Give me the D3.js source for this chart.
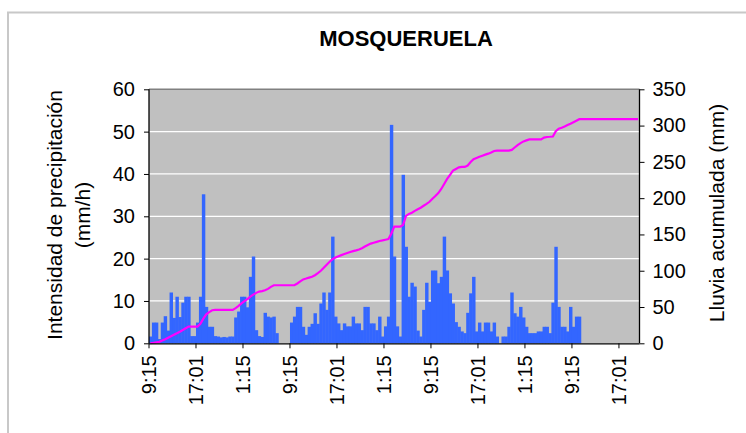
<!DOCTYPE html>
<html><head><meta charset="utf-8">
<script src="https://cdn.jsdelivr.net/npm/d3@7/dist/d3.min.js"></script>
<style>body{margin:0;background:#fff}svg{display:block;font-family:"Liberation Sans",Arial,sans-serif}</style>
</head><body><svg id="c" width="746" height="433"></svg>
<script>
const title = "MOSQUERUELA";
const leftTitle = ["Intensidad de precipitación", "(mm/h)"];
const rightTitle = "Lluvia acumulada (mm)";
const xTickLabels = ["9:15","17:01","1:15","9:15","17:01","1:15","9:15","17:01","1:15","9:15","17:01"];
const labelEvery = 16;
const nCategories = 167;
const leftTicks = [0,10,20,30,40,50,60];
const rightTicks = [0,50,100,150,200,250,300,350];
// intensity (mm/h) per interval; null = no data
const intensity = [
1.6,4.9,4.9,1,4.9,6.4,3,12,6,11,
6.2,9.6,11,11,1.7,1.7,4.9,11,35.2,8.6,
3.9,3.9,1.7,1.6,1.4,1.5,1.4,1.6,1.6,6.1,
7.5,11,11,8.5,15.7,20.5,3.1,1.7,1.5,7.2,
6.3,6.1,6.3,2.4,null,null,null,null,4.9,6.3,
8.6,8.6,3.9,2,3.9,4.6,7.1,4.6,9.4,12,
7.9,12,25.2,6.3,4.7,3.1,4.7,4,4,6.3,
4.7,4.7,3.1,8.6,8.6,4.7,4.7,3.1,6.3,1.6,
4,6.3,51.6,20.5,4,1.6,39.8,22.8,11,14.3,
13.4,3,1.6,7.9,14.3,9.8,17.2,17.2,14.2,15.7,
25.2,17.2,11.8,9.4,5,3.9,2.8,2.4,7.2,11.8,
15.7,2.8,4.9,2.8,4.9,4.9,2.8,4.9,1.6,null,
1.6,1.6,3.9,12,7.1,6.3,8.6,6.1,3.9,2.4,
2.4,2.4,2.8,2.8,3.9,3.9,2.4,9.6,22.8,8.6,
3.9,3.9,2.8,8.6,3.9,6.3,6.3
];
// accumulated rainfall (mm) per interval
const accumulated = [
0.3,0.8,1.4,2,3.7,5.6,7.7,9.7,11.8,13.8,
16,18.4,20.8,23,23,23,23,27,34,40,
43,45.5,46,46,46,46,46,46,46,48.5,
51.5,55,58,61,64.3,67,69.5,71.3,72,73,
75,77.8,80,80,80,80,80,80,80,80,
82.4,85.2,88,89.2,90.5,91.6,93.8,96.7,100,104,
108.3,112.3,116,118.2,120,121.5,123,124.5,125.8,127,
128,129.2,131,133.3,135.5,137.4,138.6,139.7,141,141.8,
142.7,143.6,151,160.7,160.7,160.7,163,175.5,178.3,180,
182.5,184.6,186.8,189.5,192.1,195,199.3,203,207,212.6,
219.6,226.5,232.2,238,240.2,242.4,243,243,245,249.7,
253.8,255.4,257,258.5,260,261.3,263,265,265.5,265.5,
265.5,265.5,265.5,266.5,269.8,273.2,275.9,278.2,279.6,280.9,
281,281,281,281,283.5,284.3,284.6,285,292.3,295.8,
297,298.7,300.7,302.6,304.7,306.8,308.8,309,309,309,
309,309,309,309,309,309,309,309,309,309,
309,309,309,309,309,309,309
];

const svg = d3.select("#c");
const X0 = 149, X1 = 639.5, Y0 = 343.3, Y1 = 89.3;
const cats = d3.range(nCategories);
const x = d3.scaleBand().domain(cats).range([X0, X1]).padding(0);
const bw = x.bandwidth();
const yL = d3.scaleLinear().domain([0,60]).range([Y0, Y1]);
const yR = d3.scaleLinear().domain([0,350]).range([Y0, Y1]);

// outer chart border
svg.append("path").attr("d","M8,434 V12.5 H747").attr("fill","none").attr("stroke","#c8c8c8").attr("stroke-width",2);

// plot background
svg.append("rect").attr("x",X0).attr("y",Y1).attr("width",X1-X0).attr("height",Y0-Y1).attr("fill","#c0c0c0");
// gridlines
svg.append("g").selectAll("line").data(leftTicks.filter(t=>t>0 && t<60)).join("line")
  .attr("x1",X0).attr("x2",X1).attr("y1",d=>yL(d)).attr("y2",d=>yL(d))
  .attr("stroke","#ffffff").attr("stroke-width",1.3);
svg.append("line").attr("x1",X0).attr("x2",X1).attr("y1",Y1).attr("y2",Y1).attr("stroke","#808080").attr("stroke-width",1.5);

// bars
svg.append("g").selectAll("rect").data(intensity.map((v,i)=>({v,i})).filter(d=>d.v!=null)).join("rect")
  .attr("x",d=>x(d.i)).attr("width",bw+0.5)
  .attr("y",d=>yL(d.v)).attr("height",d=>Y0-yL(d.v))
  .attr("fill","#3366ff");

// accumulated line
svg.append("path").datum(accumulated)
  .attr("d", d3.line().x((d,i)=>x(i)+bw/2).y(d=>yR(d)))
  .attr("fill","none").attr("stroke","#ff00ff").attr("stroke-width",2.2);

// axes
const fs = 20;
const gL = svg.append("g").attr("transform",`translate(${X0},0)`)
  .call(d3.axisLeft(yL).tickValues(leftTicks).tickSize(5).tickPadding(9).tickFormat(d3.format("d")));
const gR = svg.append("g").attr("transform",`translate(${X1},0)`)
  .call(d3.axisRight(yR).tickValues(rightTicks).tickSize(5).tickPadding(8).tickFormat(d3.format("d")));
const tickIdx = xTickLabels.map((t,k)=>k*labelEvery);
const gB = svg.append("g").attr("transform",`translate(0,${Y0})`)
  .call(d3.axisBottom(x).tickValues(tickIdx).tickSize(5).tickFormat((d)=>xTickLabels[d/labelEvery]));
gB.selectAll(".tick").attr("transform",d=>`translate(${x(d)},0)`);
gB.selectAll(".tick text").attr("transform","rotate(-90)").attr("x",-12).attr("y",0).attr("dy","0.35em").attr("text-anchor","end");
gB.select(".domain").attr("d",`M${X0},0.5H${X1}`);
[gL,gR,gB].forEach(g=>{
  g.selectAll("text").attr("font-size",fs).attr("fill","#000").attr("font-family","Liberation Sans, Arial, sans-serif");
  g.selectAll("line").attr("stroke","#000");
  g.select(".domain").attr("stroke","#000").attr("stroke-width",1.3);
});
gL.select(".domain").attr("d",`M0,${Y0}V${Y1}`);
gR.select(".domain").attr("d",`M0,${Y0}V${Y1}`);

// titles
svg.append("text").attr("x",406).attr("y",46).attr("text-anchor","middle")
  .attr("font-size",22).attr("font-weight","bold").text(title);
svg.append("text").attr("transform","translate(62,215) rotate(-90)").attr("text-anchor","middle")
  .attr("font-size",21).text(leftTitle[0]);
svg.append("text").attr("transform","translate(90,215) rotate(-90)").attr("text-anchor","middle")
  .attr("font-size",21).text(leftTitle[1]);
svg.append("text").attr("transform","translate(724,213) rotate(-90)").attr("text-anchor","middle")
  .attr("font-size",21).text(rightTitle);
</script></body></html>
